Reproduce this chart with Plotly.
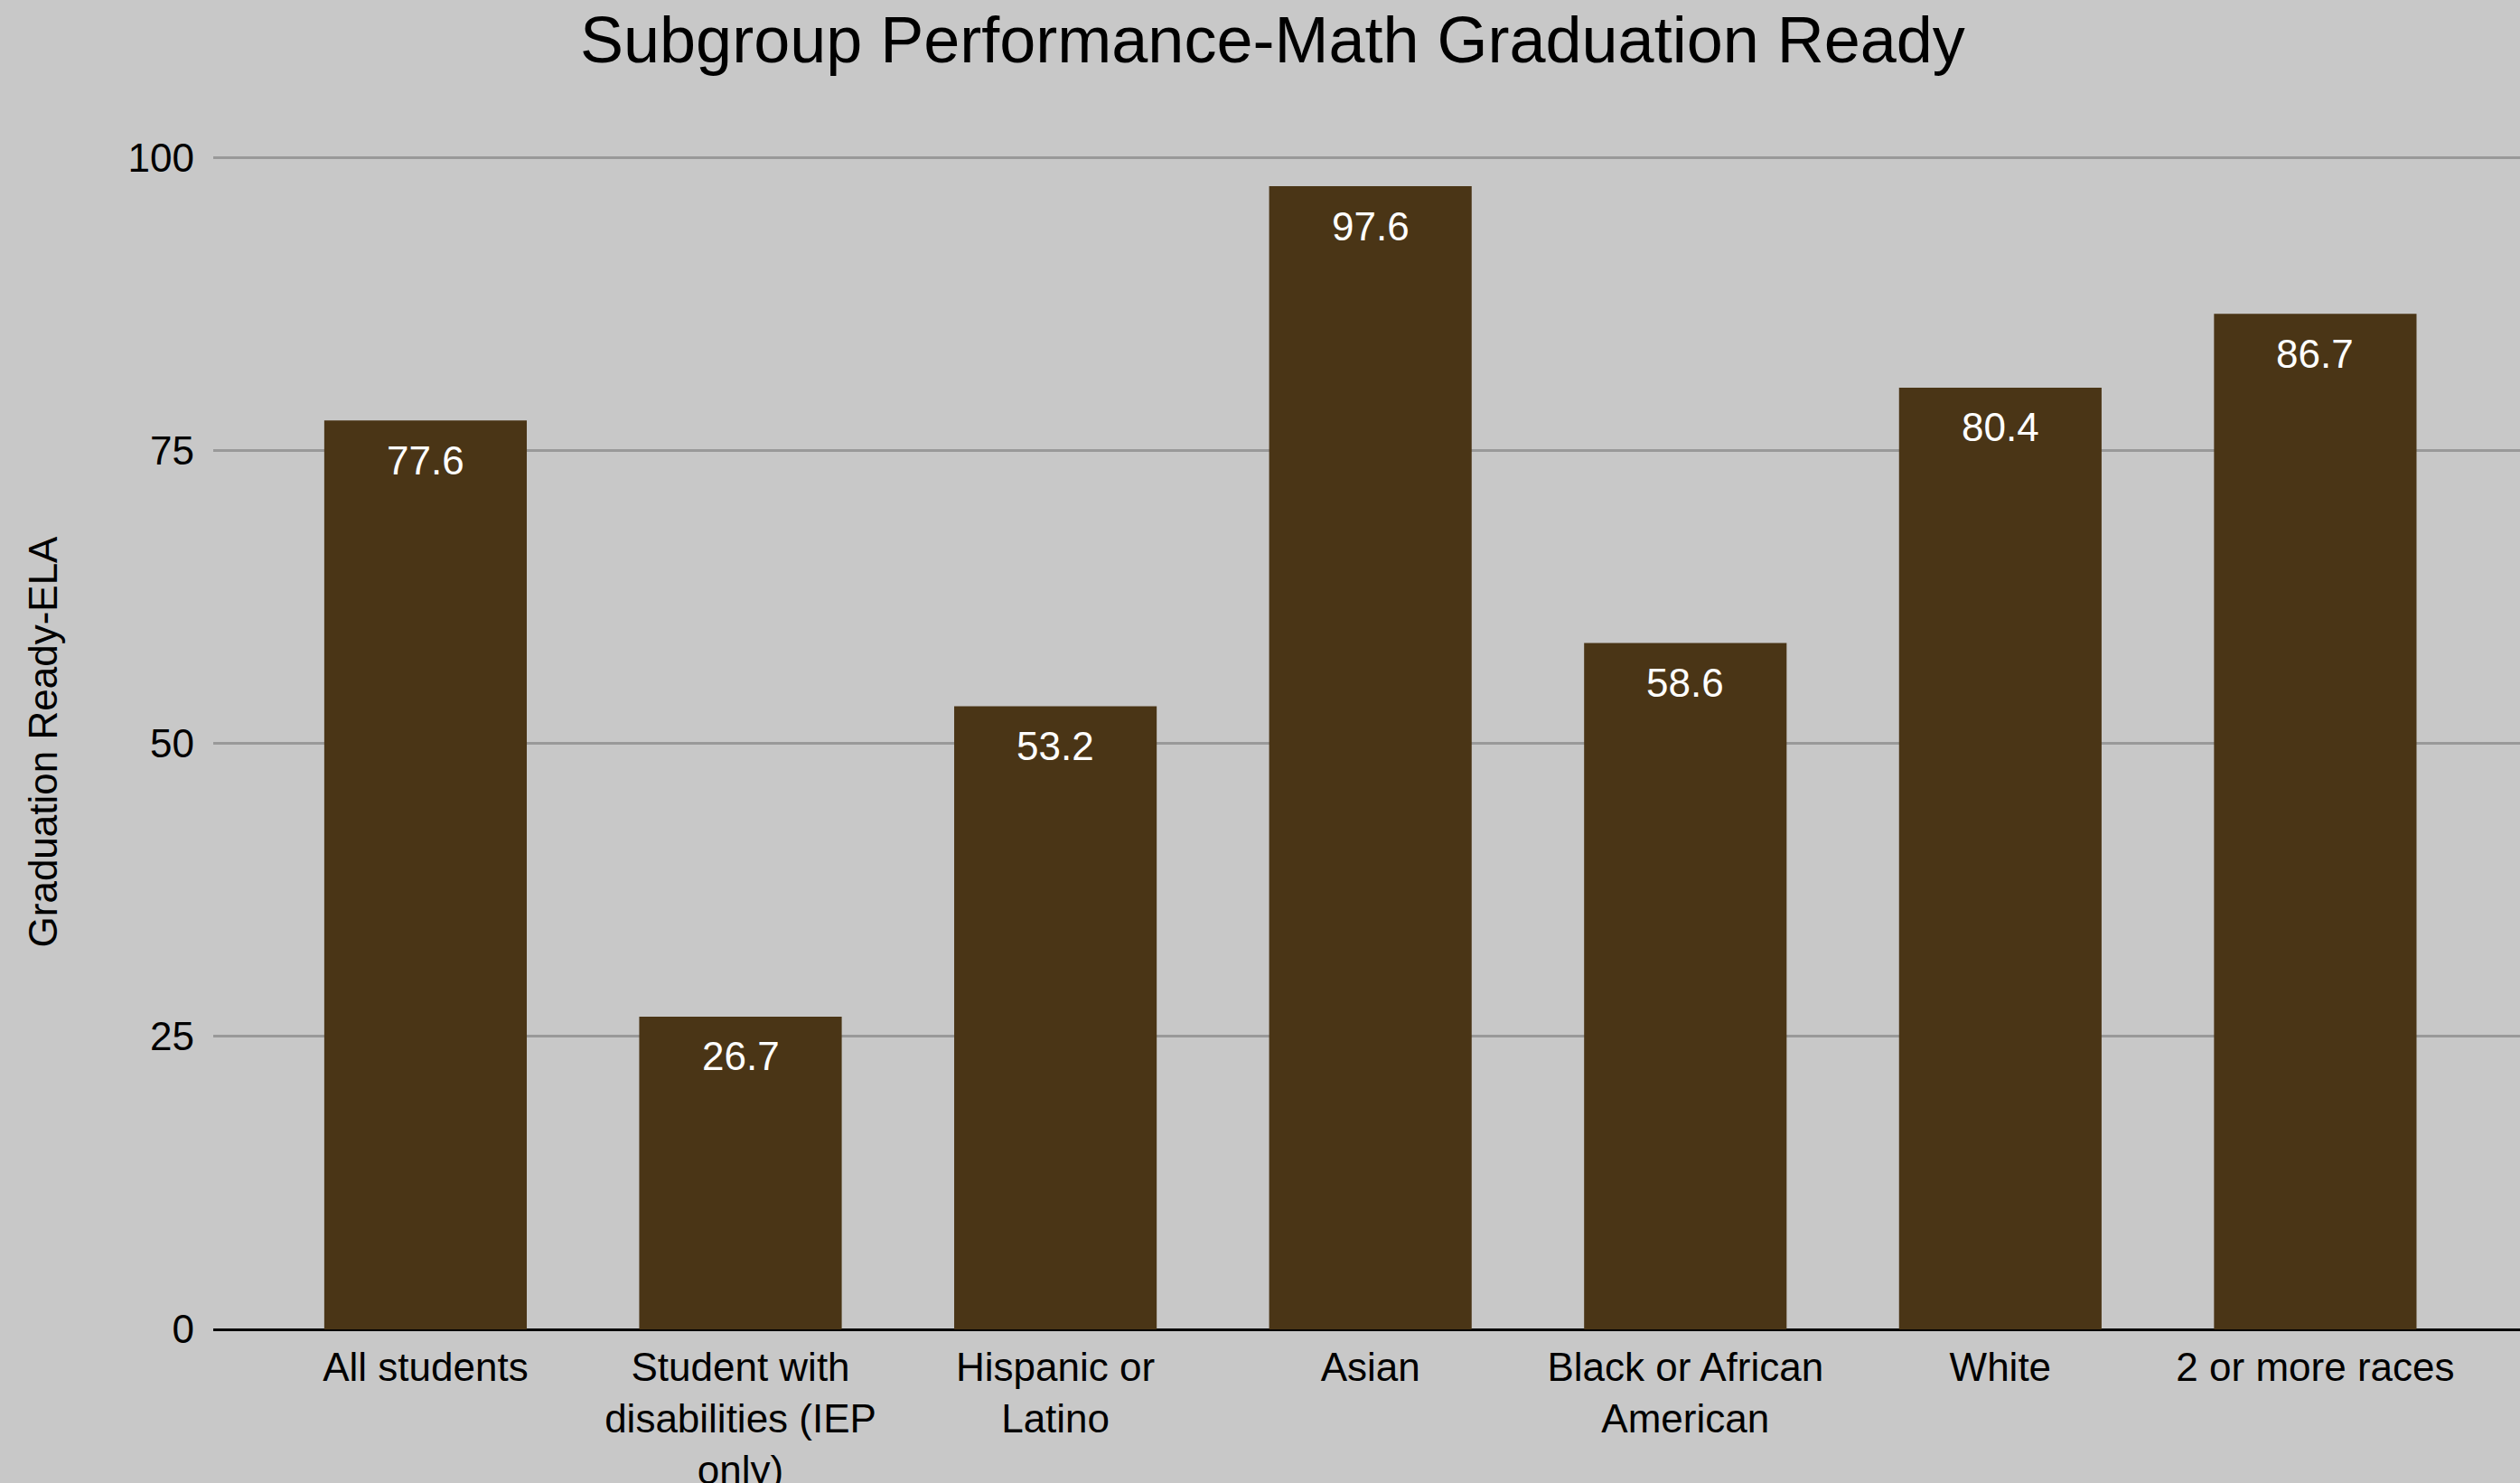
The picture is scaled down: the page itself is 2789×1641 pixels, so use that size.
import plotly.graph_objects as go

categories = ["All students", "Student with<br>disabilities (IEP<br>only)", "Hispanic or<br>Latino",
              "Asian", "Black or African<br>American", "White", "2 or more races"]
values = [77.6, 26.7, 53.2, 97.6, 58.6, 80.4, 86.7]
y_ticks = [0, 25, 50, 75, 100]

FONT = "Arial, 'Liberation Sans', sans-serif"
BG = "#c8c8c8"
BAR = "#4a3516"

fig = go.Figure()

fig.add_trace(go.Bar(
    x=categories, y=values,
    marker=dict(color=BAR, line=dict(width=0)),
    hoverinfo="x+y"
))

# value labels sit just inside the top of each bar
for cat, val in zip(categories, values):
    fig.add_annotation(
        x=cat, y=val, text=f"{val:.1f}", showarrow=False,
        yanchor="middle", yshift=-44,
        font=dict(family=FONT, size=44, color="#ffffff")
    )

fig.update_layout(
    width=2789, height=1641,
    paper_bgcolor=BG, plot_bgcolor=BG,
    font=dict(family=FONT, size=44, color="#000000"),
    title=dict(text="Subgroup Performance-Math Graduation Ready", x=0.505, xanchor="center",
               y=1 - 44 / 1641, yanchor="middle", font=dict(size=72, color="#000000")),
    margin=dict(l=236, r=0, t=171, b=170),
    bargap=0.357,
    showlegend=False
)

fig.update_xaxes(
    range=[-0.674, 6.65], showgrid=False, zeroline=False, showline=False,
    ticks="", ticklabelstandoff=12, automargin=False, tickangle=0
)
# top of range nudged above 100 so the 100 gridline is drawn
fig.update_yaxes(
    range=[0, 100.3], tickvals=y_ticks, showgrid=True, gridcolor="#999999", gridwidth=3,
    zeroline=True, zerolinecolor="#000000", zerolinewidth=3,
    ticks="", ticklabelstandoff=20, automargin=False,
    title=dict(text="Graduation Ready-ELA", font=dict(size=44), standoff=64)
)

fig.write_html("out.html", config={"displayModeBar": False},
               post_script="document.body.style.margin='0';")
